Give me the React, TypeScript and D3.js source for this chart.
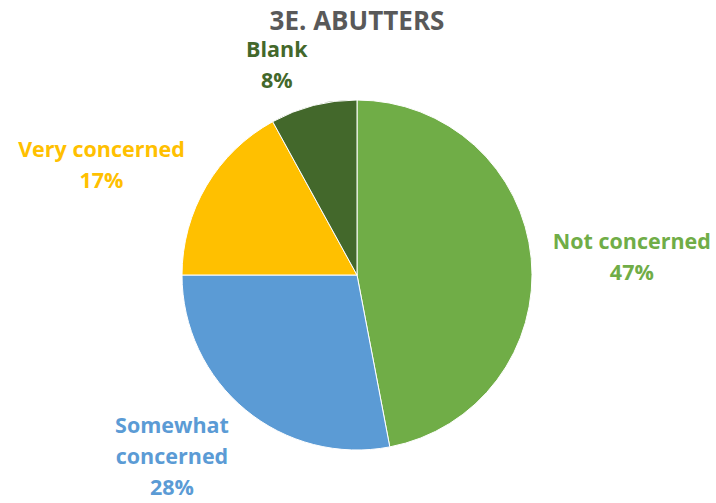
import React from 'react';
import * as d3 from 'd3';

const categories = ['Not concerned', 'Somewhat concerned', 'Very concerned', 'Blank'];
const values = [47, 28, 17, 8];
const labelLines = [['Not concerned'], ['Somewhat', 'concerned'], ['Very concerned'], ['Blank']];

const colors = ['#70AD47', '#5B9BD5', '#FFC000', '#43682B'];
// label nudges from the arc centroid (layout only)
const labelNudge = [[14, 7], [-18, -20], [-30, 23], [-15, 44]];

const width = 716;
const height = 503;
const cx = 357;
const cy = 275;
const radius = 175;
const font = '"Open Sans", Lato, sans-serif';

const App = () => {
  const pie = d3.pie<number>().sort(null).value(d => d);
  const arcs = pie(values);
  const arc = d3.arc<d3.PieArcDatum<number>>().innerRadius(0).outerRadius(radius);
  const labelArc = d3.arc<d3.PieArcDatum<number>>().innerRadius(262).outerRadius(262);
  const lineH = 31;

  return (
    <svg width={width} height={height} style={{ position: 'absolute', left: 0, top: 0 }}>
      <rect width={width} height={height} fill="#fff" />
      <text x={357} y={30} textAnchor="middle" fontFamily={font} fontWeight="bold"
        fontSize={26} fill="#595959">3E. ABUTTERS</text>
      <g transform={`translate(${cx},${cy})`}>
        {arcs.map((a, i) => (
          <path key={categories[i]} d={arc(a) || ''} fill={colors[i]} stroke="#fff" strokeWidth={1} />
        ))}
      </g>
      {arcs.map((a, i) => {
        const [lx, ly] = labelArc.centroid(a);
        const x = cx + lx + labelNudge[i][0];
        const y = cy + ly + labelNudge[i][1];
        const lines = [...labelLines[i], `${values[i]}%`];
        const top = y - ((lines.length - 1) * lineH) / 2;
        return (
          <text key={categories[i]} textAnchor="middle" fontFamily={font} fontWeight="bold"
            fontSize={21.5} fill={colors[i]}>
            {lines.map((t, j) => (
              <tspan key={j} x={x} y={top + j * lineH} dy="0.35em">{t}</tspan>
            ))}
          </text>
        );
      })}
    </svg>
  );
};

export default App;
